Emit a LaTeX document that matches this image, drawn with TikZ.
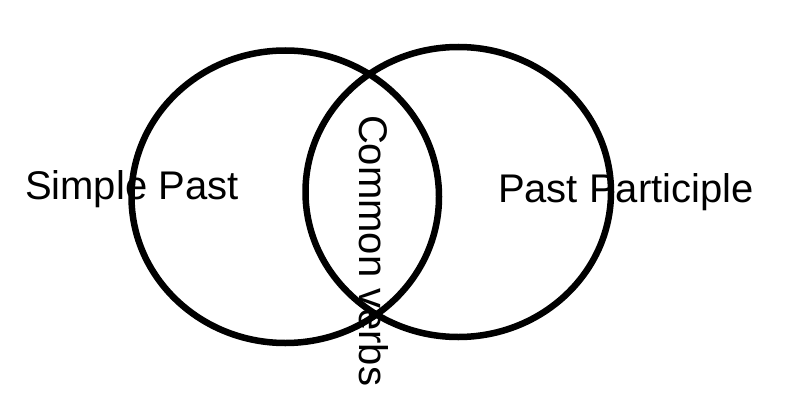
\documentclass[tikz,border=0pt]{standalone}
\usepackage{fontspec}
\setmainfont{Liberation Sans}
\begin{document}
\begin{tikzpicture}[x=1pt,y=-1pt,
  setring/.style={draw=black,line width=6.5pt},
  lbl/.style={inner sep=0pt,outer sep=0pt,font=\fontsize{40}{44}\selectfont}]
\useasboundingbox (0,0) rectangle (792,412);
\draw[setring] (285.25,196.75) ellipse [x radius=153.75, y radius=146.25];
\draw[setring] (458.25,192) ellipse [x radius=152.75, y radius=145];
\node[lbl,anchor=base west] (sp) at (25,199) {Simple Past};
\node[lbl,anchor=base west] (pp) at (498,202) {Past Participle};
\node[lbl,anchor=base west,rotate=-90] (cv) at (359,115) {Common verbs};
\end{tikzpicture}
\end{document}
